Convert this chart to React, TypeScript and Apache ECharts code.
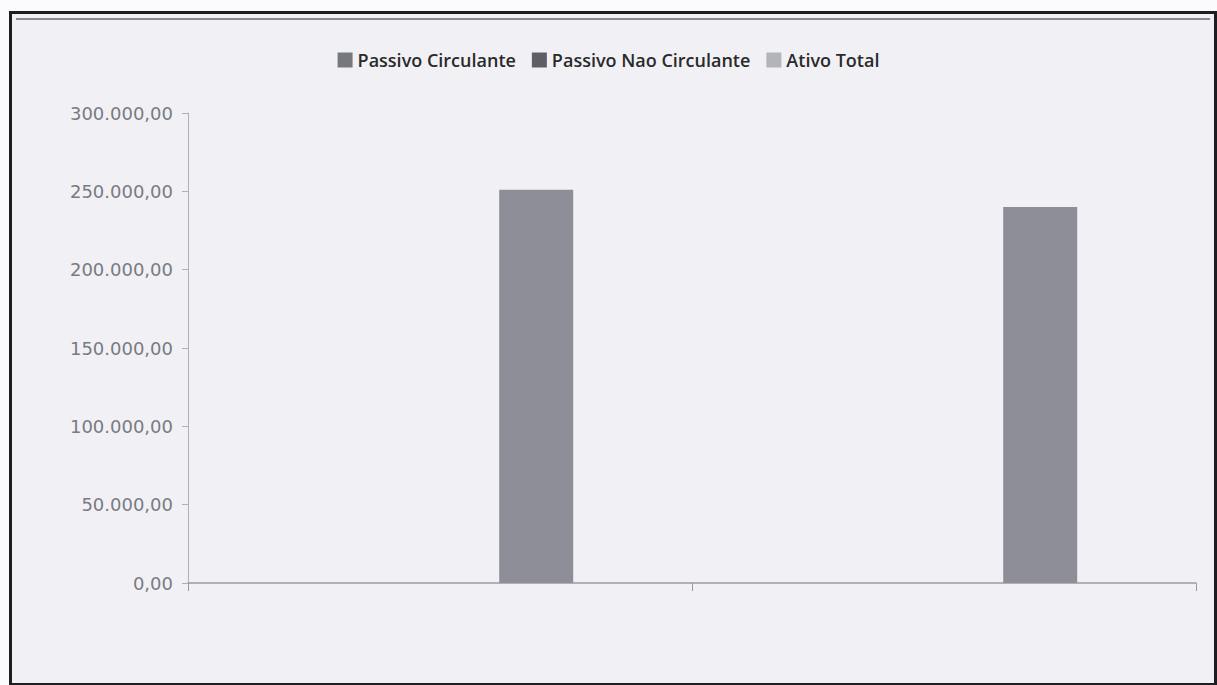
import React, { useEffect, useRef } from "react";
import * as echarts from "echarts";

const categories: string[] = ["", ""];
const seriesNames: string[] = ["Passivo Circulante", "Passivo Nao Circulante", "Ativo Total"];
const passivoCirculante: number[] = [0, 0];
const passivoNaoCirculante: number[] = [0, 0];
const ativoTotal: number[] = [251000, 240000];
const yTicks: number[] = [0, 50000, 100000, 150000, 200000, 250000, 300000];

const fmt = (v: number) => {
  const s = Math.round(v).toString().replace(/\B(?=(\d{3})+(?!\d))/g, ".");
  return s + ",00";
};

export default function App() {
  const ref = useRef<HTMLDivElement>(null);
  useEffect(() => {
    if (!ref.current) return;
    const chart = echarts.init(ref.current, undefined, { renderer: "svg" });
    chart.setOption({
      animation: false,
      backgroundColor: "transparent",
      legend: {
        top: 46,
        left: "center",
        itemWidth: 15,
        itemHeight: 15,
        itemGap: 16,
        icon: "rect",
        textStyle: { fontFamily: "Open Sans", fontSize: 18, color: "#2a2a2a", fontWeight: 600 },
        data: [
          { name: seriesNames[0], itemStyle: { color: "#77777f" } },
          { name: seriesNames[1], itemStyle: { color: "#5e5e66" } },
          { name: seriesNames[2], itemStyle: { color: "#b3b3bb" } },
        ],
      },
      grid: { left: 188, right: 21, top: 113, bottom: 102 },
      xAxis: {
        type: "category",
        data: categories,
        boundaryGap: true,
        axisLine: { show: true, lineStyle: { color: "#9a9aa2", width: 1.5 } },
        axisTick: { show: true, length: 8, lineStyle: { color: "#9a9aa2" } },
        axisLabel: { show: false },
      },
      yAxis: {
        type: "value",
        min: yTicks[0],
        max: yTicks[yTicks.length - 1],
        interval: 50000,
        axisLine: { show: true, lineStyle: { color: "#b0b0b8" } },
        axisTick: { show: true, length: 6, lineStyle: { color: "#b0b0b8" } },
        splitLine: { show: false },
        axisLabel: {
          formatter: (v: number) => fmt(v),
          fontFamily: "DejaVu Sans",
          fontSize: 18,
          color: "#7a7a82",
          margin: 15,
        },
      },
      series: [
        { name: seriesNames[0], type: "bar", data: passivoCirculante, barWidth: 74, barGap: "30%", itemStyle: { color: "#77777f" } },
        { name: seriesNames[1], type: "bar", data: passivoNaoCirculante, barWidth: 74, barGap: "30%", itemStyle: { color: "#5e5e66" } },
        { name: seriesNames[2], type: "bar", data: ativoTotal, barWidth: 74, barGap: "30%", itemStyle: { color: "#8e8e98" } },
      ],
    });
    return () => chart.dispose();
  }, []);
  return (
    <div style={{ position: "absolute", left: 0, top: 0, width: 1217, height: 685, background: "#fbfbfd", overflow: "hidden" }}>
      <div style={{ position: "absolute", left: 9, top: 11, width: 1202, height: 669, border: "3px solid #1e1e22", background: "#f1f1f5" }} />
      <div style={{ position: "absolute", left: 16, top: 18, width: 1194, height: 2, background: "#8a8a92" }} />
      <div ref={ref} style={{ position: "absolute", left: 0, top: 0, width: 1217, height: 685 }} />
    </div>
  );
}
